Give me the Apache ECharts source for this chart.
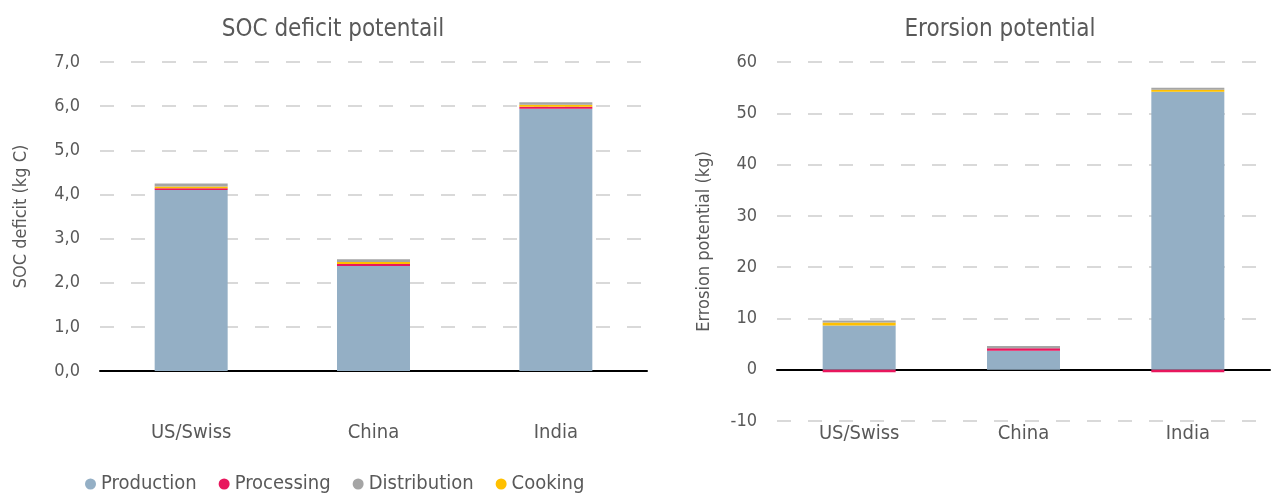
<!DOCTYPE html>
<html>
<head>
<meta charset="utf-8">
<script src="https://cdn.jsdelivr.net/npm/echarts@6/dist/echarts.min.js"></script>
<style>
  html, body { margin: 0; padding: 0; background: #fff; }
  #chart { width: 1275px; height: 497px; }
</style>
</head>
<body>
<div id="chart"></div>
<script>
const categories = ['US/Swiss', 'China', 'India']

// SOC deficit (kg C)
const socProduction = [4.10, 2.38, 5.94]
const socProcessing = [0.04, 0.045, 0.045]
const socCooking = [0.04, 0.045, 0.045]
const socDistribution = [0.07, 0.06, 0.06]
const socTicks = { min: 0, max: 7, interval: 1 }

// Erosion potential (kg)
const eroProduction = [8.6, 3.7, 54.2]
const eroProcessing = [-0.5, 0.5, -0.5]
const eroCooking = [0.6, 0, 0.4]
const eroDistribution = [0.4, 0.4, 0.4]
const eroTicks = { min: -10, max: 60, interval: 10 }

const font = "'Liberation Sans Narrow', 'DejaVu Sans Condensed', sans-serif"
const textColor = '#595959'
const colors = {
  Production: '#94afc5',
  Processing: '#e8175d',
  Distribution: '#a5a5a5',
  Cooking: '#ffc000',
}

const splitLine = {
  show: true,
  lineStyle: { color: '#d9d9d9', width: 2, type: [14, 17] },
}

function yAxis(gridIndex, ticks, name, nameGap, fmt) {
  return {
    type: 'value',
    gridIndex,
    ...ticks,
    name,
    nameLocation: 'middle',
    nameGap,
    nameTextStyle: { color: textColor, fontSize: 18, fontFamily: font },
    axisLine: { show: false },
    axisTick: { show: false },
    axisLabel: { color: textColor, fontSize: 18, fontFamily: font, margin: 20, formatter: fmt },
    splitLine,
  }
}

// labels stay at the grid bottom, so the gap differs per chart
function xAxis(gridIndex, margin) {
  return {
    type: 'category',
    gridIndex,
    data: categories,
    axisLine: { onZero: true, lineStyle: { color: '#000', width: 2 } },
    axisTick: { show: false },
    axisLabel: { color: textColor, fontSize: 20, fontFamily: font, margin },
  }
}

function bar(name, gridIndex, stack, data) {
  return {
    name,
    type: 'bar',
    xAxisIndex: gridIndex,
    yAxisIndex: gridIndex,
    stack,
    data,
    barWidth: 73,
    itemStyle: { color: colors[name] },
  }
}

const option = {
  animation: false,
  textStyle: { fontFamily: font },
  title: [
    { text: 'SOC deficit potentail', left: 328, top: 13, textAlign: 'center',
      textStyle: { color: textColor, fontSize: 24, fontWeight: 'normal', fontFamily: font } },
    { text: 'Erorsion potential', left: 995, top: 13, textAlign: 'center',
      textStyle: { color: textColor, fontSize: 24, fontWeight: 'normal', fontFamily: font } },
  ],
  legend: {
    data: ['Production', 'Processing', 'Distribution', 'Cooking'],
    left: 80,
    top: 469,
    icon: 'circle',
    itemWidth: 11,
    itemHeight: 11,
    itemGap: 22,
    textStyle: { color: textColor, fontSize: 20, fontFamily: font },
  },
  grid: [
    { left: 100, right: 628, top: 62, bottom: 126 },
    { left: 777, right: 5, top: 62, bottom: 76 },
  ],
  xAxis: [xAxis(0, 52), xAxis(1, 3)],
  yAxis: [
    yAxis(0, socTicks, 'SOC deficit (kg C)', 70, v => v.toFixed(1).replace('.', ',')),
    yAxis(1, eroTicks, 'Errosion potential (kg)', 64, v => String(v)),
  ],
  series: [
    bar('Production', 0, 'soc', socProduction),
    bar('Processing', 0, 'soc', socProcessing),
    bar('Cooking', 0, 'soc', socCooking),
    bar('Distribution', 0, 'soc', socDistribution),
    bar('Production', 1, 'ero', eroProduction),
    bar('Processing', 1, 'ero', eroProcessing),
    bar('Cooking', 1, 'ero', eroCooking),
    bar('Distribution', 1, 'ero', eroDistribution),
  ],
}

const chart = echarts.init(document.getElementById('chart'))
chart.setOption(option)
window.addEventListener('resize', () => chart.resize())
</script>
</body>
</html>
